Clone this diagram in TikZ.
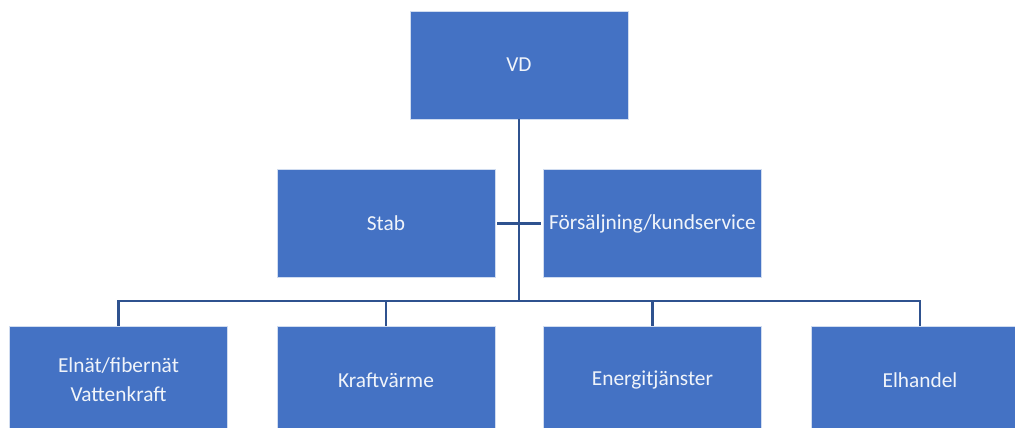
\documentclass[tikz,border=0pt]{standalone}
\usepackage{fontspec}
\setmainfont{Carlito}
\usetikzlibrary{calc}

\definecolor{rutblå}{HTML}{4472C4}
\definecolor{linjeblå}{HTML}{2F528F}

\begin{document}
\begin{tikzpicture}[x=0.75pt, y=-0.75pt,
    ruta/.style={fill=rutblå, draw=white!75!rutblå, line width=0.6pt,
        minimum width=163.5pt, minimum height=81pt, inner sep=0pt,
        text=white!92!rutblå, align=center,
        font=\fontsize{16}{21.75}\selectfont},
    linje/.style={draw=linjeblå, line width=1.6pt}]
    % Ram (bildens storlek)
    \useasboundingbox (0,0) rectangle (1015,428);
    % Ledning
    \node[ruta] (vd) at (519,65) {VD};
    % Stab och försäljning
    \node[ruta] (stab) at (386,223.5) {Stab};
    \node[ruta] (salj) at (652.5,223.5) {Försäljning/kundservice};
    % Affärsområden
    \node[ruta] (elnat) at (118.5,380) {Elnät/fibernät\\Vattenkraft};
    \node[ruta] (kraft) at (386,380) {Kraftvärme};
    \node[ruta] (energi) at (652.5,380) {Energitjänster};
    \node[ruta] (elhandel) at (920,380) {Elhandel};
    % Linjer
    \coordinate (nav) at (519,301);
    \draw[linje] (vd.south) -- (nav);
    \draw[linje, shorten <=1.5pt, shorten >=1.5pt] (stab.east) -- (salj.west);
    \foreach \n in {elnat,kraft,energi,elhandel}
        \draw[linje] (nav) -| (\n.north);
\end{tikzpicture}
\end{document}
